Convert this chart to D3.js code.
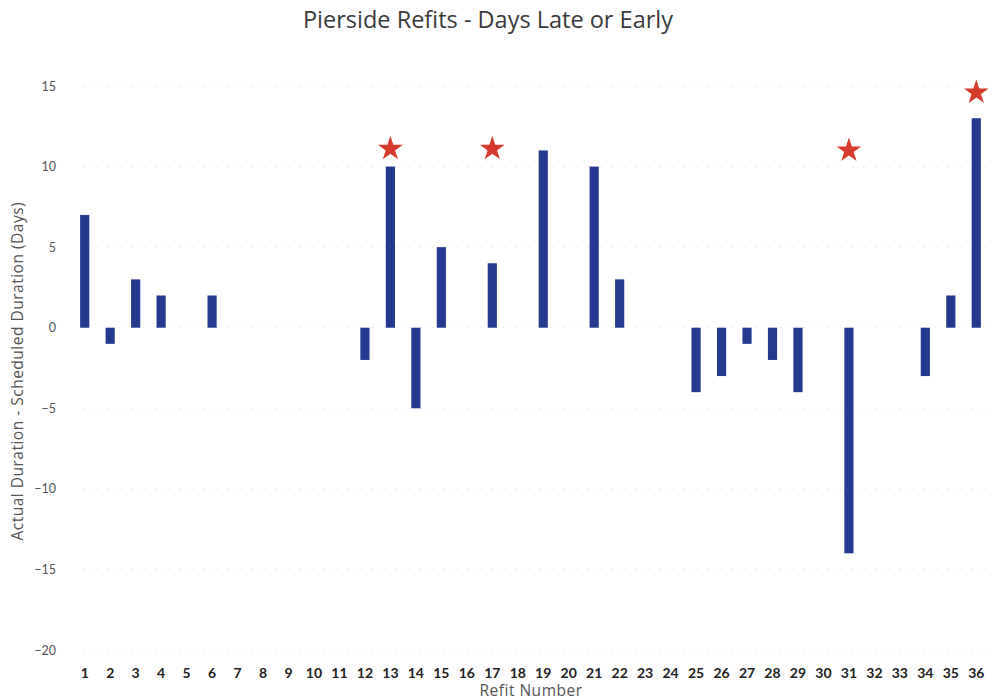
<!DOCTYPE html>
<html>
<head>
<meta charset="utf-8">
<script src="https://cdn.jsdelivr.net/npm/d3@7"></script>
<style>
  html, body { margin: 0; padding: 0; background: #fff; }
  svg { display: block; font-family: "Open Sans", Lato, sans-serif; }
</style>
</head>
<body>
<svg id="chart" width="1008" height="700"></svg>
<script>
// Refit numbers and schedule deviation (actual - scheduled, days)
const refits = d3.range(1, 37).map(String);
const daysDiff = [7, -1, 3, 2, 0, 2, 0, 0, 0, 0, 0, -2, 10, -5, 5, 0, 4, 0,
                  11, 0, 10, 3, 0, 0, -4, -3, -1, -2, -4, 0, -14, 0, 0, -3, 2, 13];
// Flagged refits and the height at which their marker sits
const flagged = ["13", "17", "31", "36"];
const flagLevel = [11.1, 11.1, 11.0, 14.6];
const yTicks = [15, 10, 5, 0, -5, -10, -15, -20];

const svg = d3.select("#chart");
const plot = { left: 73, right: 988, top: 86, bottom: 650 };

const x = d3.scaleBand().domain(refits)
  .range([plot.left, plot.right]).paddingInner(0.64).paddingOuter(0.28);
const y = d3.scaleLinear().domain([-20, 15]).range([plot.bottom, plot.top]);

// Title
svg.append("text")
  .attr("x", 488).attr("y", 28)
  .attr("text-anchor", "middle")
  .attr("font-size", 23.5).attr("fill", "#3a3a3a")
  .text("Pierside Refits - Days Late or Early");

// Faint horizontal gridlines
svg.append("g").selectAll("line").data(yTicks).join("line")
  .attr("x1", plot.left + 10).attr("x2", plot.right)
  .attr("y1", d => y(d)).attr("y2", d => y(d))
  .attr("stroke", "#ececec").attr("stroke-width", 1)
  .attr("stroke-dasharray", "3,9");

// Y axis (labels only)
const yAxis = svg.append("g")
  .attr("transform", `translate(${plot.left - 17},0)`)
  .call(d3.axisLeft(y).tickValues(yTicks).tickSize(0).tickPadding(0));
yAxis.select(".domain").remove();
yAxis.selectAll("text").attr("font-size", 12.5).attr("fill", "#555")
  .attr("font-family", "Lato, sans-serif");

// X axis (labels only)
const xAxis = svg.append("g")
  .attr("transform", `translate(0,${plot.bottom + 18})`)
  .call(d3.axisBottom(x).tickSize(0).tickPadding(0));
xAxis.select(".domain").remove();
xAxis.selectAll("text").attr("font-size", 14).attr("font-weight", "bold")
  .attr("fill", "#222").attr("font-family", "Lato, sans-serif");

// Axis titles
svg.append("text")
  .attr("x", 531).attr("y", 696)
  .attr("text-anchor", "middle").attr("font-size", 15.5)
  .attr("letter-spacing", 0.5).attr("fill", "#555")
  .text("Refit Number");
svg.append("text")
  .attr("transform", `translate(23,${y(-2.7)}) rotate(-90)`)
  .attr("text-anchor", "middle").attr("font-size", 15.5)
  .attr("letter-spacing", 0.5).attr("fill", "#555")
  .text("Actual Duration - Scheduled Duration (Days)");

// Bars
svg.append("g").selectAll("rect")
  .data(refits.map((r, i) => ({ r, v: daysDiff[i] })).filter(d => d.v !== 0))
  .join("rect")
  .attr("x", d => x(d.r))
  .attr("width", x.bandwidth())
  .attr("y", d => y(Math.max(0, d.v)))
  .attr("height", d => Math.abs(y(d.v) - y(0)))
  .attr("fill", "#233a8f");

// Star markers on flagged refits
const star = d3.symbol().type(d3.symbolStar).size(190);
svg.append("g").selectAll("path")
  .data(flagged.map((r, i) => ({ r, v: flagLevel[i] })))
  .join("path")
  .attr("d", star)
  .attr("transform", d => `translate(${x(d.r) + x.bandwidth() / 2},${y(d.v)})`)
  .attr("fill", "#d63a2a");
</script>
</body>
</html>
